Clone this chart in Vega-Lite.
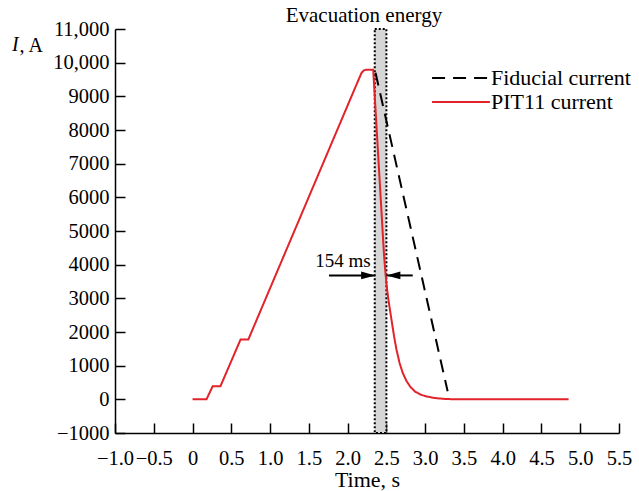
{
  "$schema": "https://vega.github.io/schema/vega-lite/v6.json",
  "width": 504,
  "height": 404,
  "autosize": "none",
  "padding": {"left": 115, "top": 29, "right": 20, "bottom": 58},
  "background": "white",
  "title": {"text": "I", "font": "Liberation Serif", "fontStyle": "italic", "fontWeight": "normal", "fontSize": 20, "color": "black", "anchor": "start", "frame": "group", "orient": "top", "offset": 0, "dx": -103, "dy": 66, "baseline": "alphabetic"},
  "config": {
    "view": {"stroke": null},
    "font": "Liberation Serif",
    "axis": {"grid": false, "domainColor": "black", "domainWidth": 1.5, "tickColor": "black", "tickWidth": 1.5, "labelFont": "Liberation Serif", "labelFontSize": 20.5, "labelColor": "black", "labelOverlap": false, "titleFont": "Liberation Serif", "titleFontSize": 20, "titleFontWeight": "normal", "titleColor": "black"}
  },
  "datasets": {
    "curves": [
      {"t": 0.0, "I": 0, "series": "PIT11 current"},
      {"t": 0.18, "I": 0, "series": "PIT11 current"},
      {"t": 0.26, "I": 390, "series": "PIT11 current"},
      {"t": 0.36, "I": 390, "series": "PIT11 current"},
      {"t": 0.62, "I": 1780, "series": "PIT11 current"},
      {"t": 0.72, "I": 1780, "series": "PIT11 current"},
      {"t": 2.12, "I": 9380, "series": "PIT11 current"},
      {"t": 2.15, "I": 9540, "series": "PIT11 current"},
      {"t": 2.18, "I": 9700, "series": "PIT11 current"},
      {"t": 2.21, "I": 9770, "series": "PIT11 current"},
      {"t": 2.24, "I": 9790, "series": "PIT11 current"},
      {"t": 2.33, "I": 9790, "series": "PIT11 current"},
      {"t": 2.469, "I": 4300, "series": "PIT11 current"},
      {"t": 2.49, "I": 3700, "series": "PIT11 current"},
      {"t": 2.51, "I": 3250, "series": "PIT11 current"},
      {"t": 2.53, "I": 2900, "series": "PIT11 current"},
      {"t": 2.56, "I": 2450, "series": "PIT11 current"},
      {"t": 2.6, "I": 1860, "series": "PIT11 current"},
      {"t": 2.63, "I": 1480, "series": "PIT11 current"},
      {"t": 2.67, "I": 1080, "series": "PIT11 current"},
      {"t": 2.71, "I": 790, "series": "PIT11 current"},
      {"t": 2.76, "I": 540, "series": "PIT11 current"},
      {"t": 2.81, "I": 370, "series": "PIT11 current"},
      {"t": 2.87, "I": 230, "series": "PIT11 current"},
      {"t": 2.94, "I": 140, "series": "PIT11 current"},
      {"t": 3.02, "I": 85, "series": "PIT11 current"},
      {"t": 3.12, "I": 40, "series": "PIT11 current"},
      {"t": 3.25, "I": 12, "series": "PIT11 current"},
      {"t": 3.4, "I": 0, "series": "PIT11 current"},
      {"t": 4.85, "I": 0, "series": "PIT11 current"},
      {"t": 2.36, "I": 9700, "series": "Fiducial current"},
      {"t": 3.29, "I": 240, "series": "Fiducial current"}
    ],
    "band": [{"x1": 2.35, "x2": 2.5, "y1": -1000, "y2": 11000}],
    "arrows": [
      {"tail": 1.76, "tip": 2.355, "I": 3680, "dir": "right"},
      {"tail": 2.84, "tip": 2.5, "I": 3680, "dir": "left"}
    ],
    "labels": [
      {"t": 1.94, "I": 3930, "text": "154 ms", "kind": "note"},
      {"t": 2.21, "I": 11000, "text": "Evacuation energy", "kind": "top"}
    ]
  },
  "layer": [
    {
      "data": {"name": "band"},
      "mark": {"type": "rect", "fill": "#d6d6d6", "stroke": "black", "strokeWidth": 2, "strokeDash": [2, 2], "clip": false},
      "encoding": {
        "x": {"field": "x1", "type": "quantitative", "scale": {"domain": [-1, 5.5], "nice": false, "zero": false},
          "axis": {"values": [-1, -0.5, 0, 0.5, 1, 1.5, 2, 2.5, 3, 3.5, 4, 4.5, 5, 5.5], "tickCount": 30, "labelExpr": "datum.value == 0 ? '0' : format(datum.value, '.1f')", "labelOverlap": false, "tickSize": -10, "labelPadding": 25, "title": "Time, s", "titleFontSize": 22, "titleY": 53, "titleBaseline": "alphabetic", "labelFlush": false}},
        "x2": {"field": "x2"},
        "y": {"field": "y1", "type": "quantitative", "scale": {"domain": [-1000, 11000], "nice": false, "zero": false},
          "axis": {"values": [-1000, 0, 1000, 2000, 3000, 4000, 5000, 6000, 7000, 8000, 9000, 10000, 11000], "tickCount": 30, "labelExpr": "abs(datum.value) >= 10000 ? format(datum.value, ',') : format(datum.value, 'd')", "labelOverlap": false, "tickSize": -10, "labelPadding": 16, "labelFlush": false, "title": ", A", "titleAngle": 0, "titleX": -96, "titleY": 22, "titleAlign": "left", "titleBaseline": "alphabetic"}},
        "y2": {"field": "y2"}
      }
    },
    {
      "data": {"name": "curves"},
      "mark": {"type": "line", "strokeWidth": 2},
      "encoding": {
        "x": {"field": "t", "type": "quantitative"},
        "y": {"field": "I", "type": "quantitative"},
        "color": {"field": "series", "type": "nominal", "scale": {"domain": ["Fiducial current", "PIT11 current"], "range": ["black", "#e2232a"]},
          "legend": {"orient": "none", "legendX": 335, "legendY": 38, "title": null, "symbolType": "M-5,0H5", "symbolSize": 134, "symbolStrokeWidth": 2, "labelFont": "Liberation Serif", "labelFontSize": 22, "labelColor": "black", "labelOffset": 19, "rowPadding": 2, "padding": 0}},
        "strokeDash": {"field": "series", "type": "nominal", "scale": {"domain": ["Fiducial current", "PIT11 current"], "range": [[13, 8], [1, 0]]}}
      }
    },
    {
      "data": {"name": "arrows"},
      "mark": {"type": "rule", "color": "black", "strokeWidth": 2},
      "encoding": {
        "x": {"field": "tail", "type": "quantitative"},
        "x2": {"field": "tip"},
        "y": {"field": "I", "type": "quantitative"}
      }
    },
    {
      "data": {"name": "arrows"},
      "transform": [{"filter": "datum.dir == 'right'"}],
      "mark": {"type": "point", "shape": "M0,0L-2,-0.55L-2,0.55Z", "filled": true, "color": "black", "size": 196, "opacity": 1},
      "encoding": {
        "x": {"field": "tip", "type": "quantitative"},
        "y": {"field": "I", "type": "quantitative"}
      }
    },
    {
      "data": {"name": "arrows"},
      "transform": [{"filter": "datum.dir == 'left'"}],
      "mark": {"type": "point", "shape": "M0,0L2,-0.55L2,0.55Z", "filled": true, "color": "black", "size": 196, "opacity": 1},
      "encoding": {
        "x": {"field": "tip", "type": "quantitative"},
        "y": {"field": "I", "type": "quantitative"}
      }
    },
    {
      "data": {"name": "labels"},
      "transform": [{"filter": "datum.kind == 'note'"}],
      "mark": {"type": "text", "font": "Liberation Serif", "fontSize": 19, "color": "black", "align": "center", "baseline": "alphabetic"},
      "encoding": {
        "x": {"field": "t", "type": "quantitative"},
        "y": {"field": "I", "type": "quantitative"},
        "text": {"field": "text"}
      }
    },
    {
      "data": {"name": "labels"},
      "transform": [{"filter": "datum.kind == 'top'"}],
      "mark": {"type": "text", "font": "Liberation Serif", "fontSize": 21, "color": "black", "align": "center", "baseline": "alphabetic", "dy": -7, "clip": false},
      "encoding": {
        "x": {"field": "t", "type": "quantitative"},
        "y": {"field": "I", "type": "quantitative"},
        "text": {"field": "text"}
      }
    }
  ]
}
